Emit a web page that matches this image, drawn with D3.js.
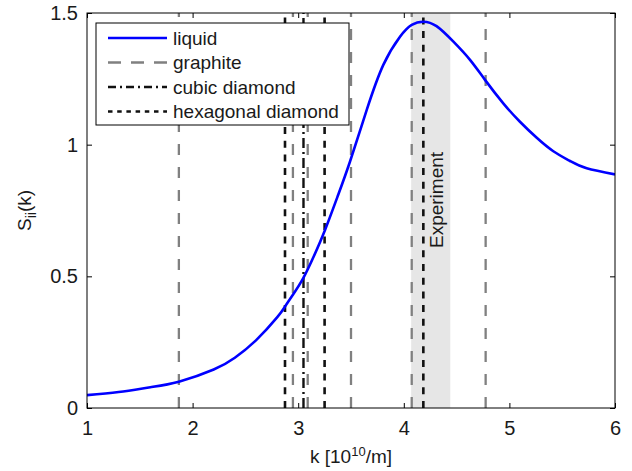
<!DOCTYPE html>
<html><head><meta charset="utf-8">
<script src="https://cdn.jsdelivr.net/npm/d3@7"></script>
<style>
html,body{margin:0;padding:0;background:#fff;}
text{font-family:"Liberation Sans",Arial,sans-serif;fill:#1a1a1a;}
</style></head>
<body><svg id="c" width="632" height="471"></svg>
<script>
// ---- data ----
const liquidK = [1.0,1.3,1.6,1.87,2.2,2.4,2.6,2.8,2.875,2.95,3.048,3.15,3.254,3.37,3.49,3.649,3.806,3.964,4.075,4.185,4.31,4.47,4.627,4.769,4.942,5.10,5.259,5.416,5.574,5.732,6.0];
const liquidS = [0.049,0.061,0.079,0.100,0.146,0.191,0.257,0.344,0.385,0.430,0.493,0.578,0.676,0.800,0.935,1.132,1.303,1.410,1.455,1.467,1.450,1.391,1.322,1.246,1.157,1.087,1.026,0.975,0.938,0.910,0.887];
const graphiteK = [1.87,2.95,3.09,3.50,4.075,4.775];
const cubicK = [3.05];
const hexK = [2.875,3.25,4.185];
const experimentRange = [4.07,4.44];
const xTicks = [1,2,3,4,5,6];
const yTicks = [0,0.5,1,1.5];
const legendLabels = ["liquid","graphite","cubic diamond","hexagonal diamond"];

// ---- layout ----
const L=87, R=615, T=13, B=408;
const x = d3.scaleLinear().domain([1,6]).range([L,R]);
const y = d3.scaleLinear().domain([0,1.5]).range([B,T]);
const svg = d3.select("#c");
const FS = 19, TFS = 20;

const styles = {
  liquid:{stroke:"#0000ff",w:2.6,dash:null,legDash:null},
  graphite:{stroke:"#808080",w:2.3,dash:"11,12",legDash:"13,10"},
  cubic:{stroke:"#111",w:2.4,dash:"10,4,2,4",legDash:"8,4,2,4"},
  hex:{stroke:"#111",w:2.6,dash:"7,6.7",legDash:"4.5,4.7"}
};

svg.append("clipPath").attr("id","pc").append("rect")
  .attr("x",L).attr("y",T).attr("width",R-L).attr("height",B-T);
const g = svg.append("g").attr("clip-path","url(#pc)");

// experiment band
g.append("rect").attr("x",x(experimentRange[0])).attr("y",T)
  .attr("width",x(experimentRange[1])-x(experimentRange[0])).attr("height",B-T)
  .attr("fill","#e6e6e6");

function vlines(arr, st){
  g.selectAll(null).data(arr).enter().append("line")
    .attr("x1",d=>x(d)).attr("x2",d=>x(d)).attr("y1",B).attr("y2",T)
    .attr("stroke",st.stroke).attr("stroke-width",st.w)
    .attr("stroke-dasharray",st.dash);
}
vlines(graphiteK, styles.graphite);
vlines(hexK, styles.hex);
vlines(cubicK, styles.cubic);

// experiment label
const ex = (x(experimentRange[0])+x(experimentRange[1]))/2;
svg.append("text").attr("transform",`translate(${ex+12},200) rotate(-90)`)
  .attr("text-anchor","middle").attr("font-size",FS).text("Experiment");

// liquid curve
const pts = liquidK.map((k,i)=>[k,liquidS[i]]);
g.append("path").datum(pts)
  .attr("d",d3.line().x(d=>x(d[0])).y(d=>y(d[1])).curve(d3.curveNatural))
  .attr("fill","none").attr("stroke",styles.liquid.stroke).attr("stroke-width",styles.liquid.w);

// axes box
svg.append("rect").attr("x",L).attr("y",T).attr("width",R-L).attr("height",B-T)
  .attr("fill","none").attr("stroke","#000").attr("stroke-width",1);

// axes with inward ticks
const xa = svg.append("g").attr("transform",`translate(0,${B})`)
  .call(d3.axisBottom(x).tickValues(xTicks).tickSizeInner(-5).tickSizeOuter(0).tickPadding(13).tickFormat(d3.format("d")));
const xt = svg.append("g").attr("transform",`translate(0,${T})`)
  .call(d3.axisTop(x).tickValues(xTicks).tickSizeInner(-5).tickSizeOuter(0).tickFormat(""));
const ya = svg.append("g").attr("transform",`translate(${L},0)`)
  .call(d3.axisLeft(y).tickValues(yTicks).tickSizeInner(-5).tickSizeOuter(0).tickPadding(9).tickFormat(d=>d3.format("")(d)));
const yr = svg.append("g").attr("transform",`translate(${R},0)`)
  .call(d3.axisRight(y).tickValues(yTicks).tickSizeInner(-5).tickSizeOuter(0).tickFormat(""));
[xa,xt,ya,yr].forEach(a=>{
  a.select(".domain").remove();
  a.selectAll("line").attr("stroke","#000");
  a.selectAll("text").attr("font-size",TFS).attr("font-family","Liberation Sans, Arial, sans-serif").attr("fill","#1a1a1a");
});

// axis labels
const xl = svg.append("text").attr("x",(L+R)/2).attr("y",463).attr("text-anchor","middle").attr("font-size",FS);
xl.append("tspan").text("k [10");
xl.append("tspan").attr("dy",-7).attr("font-size",13).text("10");
xl.append("tspan").attr("dy",7).text("/m]");

const yl = svg.append("text").attr("transform",`translate(31,${(T+B)/2}) rotate(-90)`).attr("text-anchor","middle").attr("font-size",FS);
yl.append("tspan").text("S");
yl.append("tspan").attr("dy",5).attr("font-size",14).text("ii");
yl.append("tspan").attr("dy",-5).text("(k)");

// legend
const lg = svg.append("g");
lg.append("rect").attr("x",96).attr("y",23).attr("width",253).attr("height",102)
  .attr("fill","#fff").attr("stroke","#000").attr("stroke-width",1);
const keys = ["liquid","graphite","cubic","hex"];
const rowY = d3.scalePoint().domain(keys).range([38,111.5]);
keys.forEach((k,i)=>{
  const st = styles[k];
  lg.append("line").attr("x1",108).attr("x2",167).attr("y1",rowY(k)).attr("y2",rowY(k))
    .attr("stroke",st.stroke).attr("stroke-width",st.w).attr("stroke-dasharray",st.legDash);
  lg.append("text").attr("x",173).attr("y",rowY(k)+6.5).attr("font-size",FS).text(legendLabels[i]);
});
</script></body></html>
